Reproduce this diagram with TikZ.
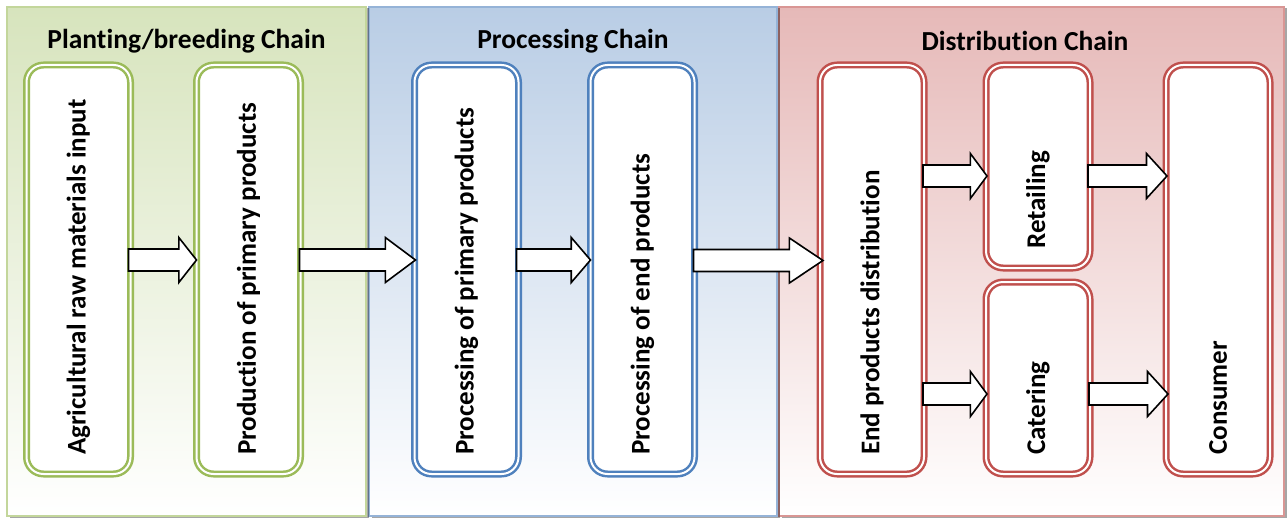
\documentclass[tikz,border=0pt]{standalone}
\usepackage{fontspec}
\setmainfont{Carlito}[Ligatures=NoCommon]
\usetikzlibrary{calc,shadows}
\definecolor{plantfill}{RGB}{215,228,189}
\definecolor{plantline}{RGB}{195,214,155}
\definecolor{plantbox}{RGB}{155,187,89}
\definecolor{procfill}{RGB}{185,205,229}
\definecolor{procline}{RGB}{149,179,215}
\definecolor{procbox}{RGB}{79,129,189}
\definecolor{distfill}{RGB}{230,185,184}
\definecolor{distline}{RGB}{217,150,148}
\definecolor{distbox}{RGB}{192,80,77}
\begin{document}
\begin{tikzpicture}[x=1pt,y=-1pt,
  panel/.style={draw=#1line,line width=2.5pt,top color=#1fill,middle color=#1fill!50!white,bottom color=white,
    minimum height=509pt,inner sep=0pt,
    drop shadow={shadow xshift=2.5pt,shadow yshift=-1.5pt,fill=black,opacity=0.35}},
  chaintitle/.style={font=\bfseries\fontsize{27.5}{32}\selectfont},
  chainbox/.style={draw=#1,double=white,double distance=2pt,line width=2.5pt,fill=white,
    rounded corners=17pt,minimum width=104pt,inner sep=0pt,outer sep=0pt},
  boxtext/.style={rotate=90,anchor=west,inner sep=0pt,font=\bfseries\fontsize{27}{31}\selectfont},
  blockarrow/.style={draw=black,fill=white,line width=1.6pt,
    to path={let \p1=(\tikztostart),\p2=(\tikztotarget),\n1={0.26*(\x2-\x1)} in
      (\x1,\y1+11pt) -- (\x2-\n1*1pt,\y1+11pt) -- (\x2-\n1*1pt,\y1+22.5pt) -- (\x2,\y1)
      -- (\x2-\n1*1pt,\y1-22.5pt) -- (\x2-\n1*1pt,\y1-11pt) -- (\x1,\y1-11pt) -- cycle}}]
\useasboundingbox (0,0) rectangle (1288,519);
% the three chains, right to left so each shadow falls on the next panel
\node[panel=dist,minimum width=505pt] (distpanel) at (1031.5,261.5) {};
\node[panel=proc,minimum width=408pt] (procpanel) at (573,261.5) {};
\node[panel=plant,minimum width=359pt] (plantpanel) at (186.5,261.5) {};
\node[chaintitle] (planttitle) at (186.5,41) {Planting/breeding Chain};
\node[chaintitle] (proctitle) at (573,41) {Processing Chain};
\node[chaintitle] (disttitle) at (1025,41) {Distribution Chain};
% stages
\node[chainbox=plantbox,minimum height=409pt] (rawinput) at (78.5,269.5) {};
\node[chainbox=plantbox,minimum height=409pt] (primprod) at (248.5,269.5) {};
\node[chainbox=procbox,minimum height=409pt] (primproc) at (466.5,269.5) {};
\node[chainbox=procbox,minimum height=409pt] (endproc) at (642.5,269.5) {};
\node[chainbox=distbox,minimum height=409pt] (enddist) at (872,269.5) {};
\node[chainbox=distbox,minimum height=203pt] (retail) at (1038,166.5) {};
\node[chainbox=distbox,minimum height=192pt] (catering) at (1038,378) {};
\node[chainbox=distbox,minimum height=409pt] (consumer) at (1218,269.5) {};
\node[boxtext] (rawinputtext) at ([yshift=19pt]rawinput.south) {Agricultural raw materials input};
\node[boxtext] (primprodtext) at ([yshift=19pt]primprod.south) {Production of primary products};
\node[boxtext] (primproctext) at ([yshift=19pt]primproc.south) {Processing of primary products};
\node[boxtext] (endproctext) at ([yshift=19pt]endproc.south) {Processing of end products};
\node[boxtext] (enddisttext) at ([yshift=19pt]enddist.south) {End products distribution};
\node[boxtext] (retailtext) at ([yshift=19pt]retail.south) {Retailing};
\node[boxtext] (cateringtext) at ([yshift=19pt]catering.south) {Catering};
\node[boxtext] (consumertext) at ([yshift=19pt]consumer.south) {Consumer};
% flows
\draw[blockarrow] ([xshift=-2pt,yshift=9.5pt]rawinput.east) to (primprod.west);
\draw[blockarrow] ([xshift=-1pt,yshift=9.5pt]primprod.east) to ([xshift=1pt]primproc.west);
\draw[blockarrow] ([xshift=-2pt,yshift=9.5pt]primproc.east) to (endproc.west);
\draw[blockarrow] ([xshift=-1pt,yshift=9pt]endproc.east) to ([xshift=3pt]enddist.west);
\draw[blockarrow] ([xshift=-1pt,yshift=93.5pt]enddist.east) to ([xshift=1pt]retail.west);
\draw[blockarrow] ([xshift=-1pt,yshift=-124.5pt]enddist.east) to ([xshift=1pt]catering.west);
\draw[blockarrow] ([xshift=-2pt,yshift=-9.5pt]retail.east) to ([xshift=1pt]consumer.west);
\draw[blockarrow] ([xshift=-1pt,yshift=-16pt]catering.east) to ([xshift=2pt]consumer.west);
\end{tikzpicture}
\end{document}
